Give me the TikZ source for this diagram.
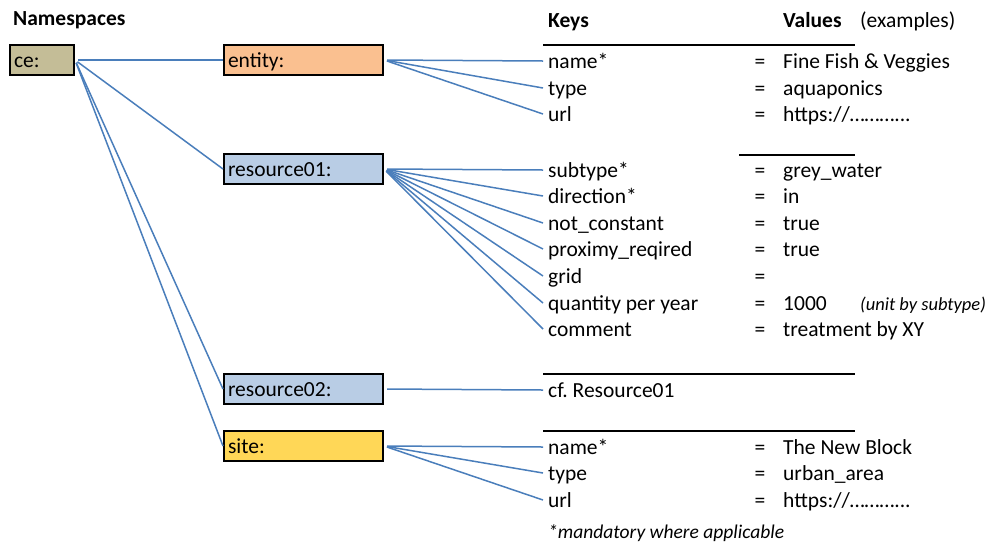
\documentclass[tikz,border=0pt]{standalone}
\usepackage{fontspec}
\setmainfont{Carlito}
\frenchspacing
\usetikzlibrary{positioning}
\definecolor{cefill}{HTML}{C4BD97}
\definecolor{entfill}{HTML}{FAC090}
\definecolor{resfill}{HTML}{B9CDE5}
\definecolor{sitefill}{HTML}{FFD757}
\definecolor{linkblue}{HTML}{4A7EBB}
\tikzstyle{txt}=[inner sep=0pt, text height=18pt, text depth=3pt, font=\fontsize{21.5}{26}\selectfont]
\tikzstyle{ns}=[txt, draw, line width=2pt, anchor=west, minimum height=30pt, inner xsep=4pt, align=left]
\tikzstyle{nsbox}=[ns, text width=151pt]
\tikzstyle{key}=[txt, anchor=west, inner xsep=5pt]
\tikzstyle{val}=[txt, anchor=west]
\tikzstyle{head}=[txt, anchor=west, font=\fontsize{21.5}{26}\selectfont\bfseries]
\tikzstyle{link}=[linkblue, line width=1.5pt, shorten <=3pt]
\tikzstyle{rule}=[black, line width=1.5pt]

\begin{document}
\begin{tikzpicture}[x=1pt, y=-1pt]
    \useasboundingbox (0,0) rectangle (995,542);
    % headings
    \node[head] (hns) at (13,18) {Namespaces};
    \node[head] (hkeys) at (548,20) {Keys};
    \node[head] (hvals) at (783,20) {Values};
    \node[val] (hex) at (860,20) {(examples)};
    % namespaces
    \node[ns, fill=cefill, text width=56pt] (ce) at (9,60) {ce:};
    \node[nsbox, fill=entfill] (entity) at (223,60) {entity:};
    \node[nsbox, fill=resfill] (res1) at (223,169) {resource01:};
    \node[nsbox, fill=resfill] (res2) at (223,389) {resource02:};
    \node[nsbox, fill=sitefill] (site) at (223,446) {site:};
    \foreach \n in {entity, res1, res2, site}
        \draw[link] (ce.east) -- (\n.west);
    % rules
    \draw[rule] (543,45) -- (855,45);
    \draw[rule] (739,155) -- (855,155);
    \draw[rule] (543,374) -- (855,374);
    \draw[rule] (543,431) -- (855,431);
    % entity keys
    \foreach \y/\k/\v [count=\i] in {61/name*/Fine Fish \& Veggies, 88/type/aquaponics, 114/url/{https://\dots\dots\dots...}} {
        \node[key] (ek\i) at (543,\y) {\k};
        \node[txt] (ee\i) at (760,\y) {=};
        \node[val] (ev\i) at (783,\y) {\v};
        \draw[link] (entity.east) -- (ek\i.west);
    }
    % resource01 keys
    \foreach \y/\k/\v [count=\i] in {170/subtype*/grey\_water, 196/direction*/in, 223/not\_constant/true, 249/proximy\_reqired/true, 276/grid/, 303/quantity per year/1000, 329/comment/treatment by XY} {
        \node[key] (rk\i) at (543,\y) {\k};
        \node[txt] (re\i) at (760,\y) {=};
        \node[val] (rv\i) at (783,\y) {\v};
        \draw[link] (res1.east) -- (rk\i.west);
    }
    \node[val, font=\fontsize{18.5}{22}\selectfont\itshape] (unit) at (860,303) {(unit by subtype)};
    % resource02
    \node[key] (r2k) at (543,390) {cf. Resource01};
    \draw[link] (res2.east) -- (r2k.west);
    % site keys
    \foreach \y/\k/\v [count=\i] in {447/name*/The New Block, 473/type/urban\_area, 500/url/{https://\dots\dots\dots...}} {
        \node[key] (sk\i) at (543,\y) {\k};
        \node[txt] (se\i) at (760,\y) {=};
        \node[val] (sv\i) at (783,\y) {\v};
        \draw[link] (site.east) -- (sk\i.west);
    }
    \node[val, font=\fontsize{19.5}{23}\selectfont\itshape] (note) at (548,531) {*mandatory where applicable};
\end{tikzpicture}
\end{document}
